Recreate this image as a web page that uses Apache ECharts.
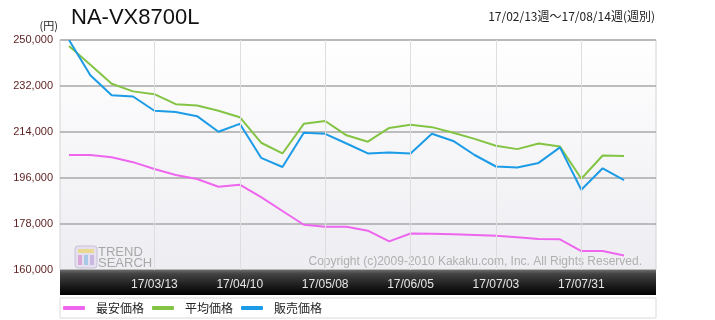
<!DOCTYPE html>
<html>
<head>
<meta charset="utf-8">
<script src="https://cdn.jsdelivr.net/npm/echarts@6/dist/echarts.min.js"></script>
<title>NA-VX8700L</title>
<style>html,body{margin:0;padding:0;background:#fff}#main{width:715px;height:320px}</style>
</head>
<body>
<div id="main"></div>
<script>
// weekly data 17/02/13 - 17/08/14
var weeks = ['17/02/13', '17/02/20', '17/02/27', '17/03/06', '17/03/13', '17/03/20', '17/03/27',
    '17/04/03', '17/04/10', '17/04/17', '17/04/24', '17/05/01', '17/05/08', '17/05/15',
    '17/05/22', '17/05/29', '17/06/05', '17/06/12', '17/06/19', '17/06/26', '17/07/03',
    '17/07/10', '17/07/17', '17/07/24', '17/07/31', '17/08/07', '17/08/14'];
var minPrice = [205000, 205000, 204100, 202200, 199500, 197200, 195600, 192600, 193400, 188500,
    183100, 177700, 176900, 176900, 175400, 171200, 174300, 174200, 174000, 173700, 173400,
    172800, 172100, 172000, 167400, 167400, 165700];
var avgPrice = [247700, 240300, 232900, 229900, 228800, 224900, 224400, 222300, 219800, 209800,
    205600, 217200, 218300, 212700, 210200, 215600, 216800, 215900, 213700, 211300, 208600,
    207300, 209500, 208300, 195700, 204800, 204600];
var salePrice = [250000, 236200, 228400, 227900, 222300, 221800, 220200, 214100, 217200, 203900,
    200300, 213700, 213300, 209500, 205600, 206000, 205600, 213300, 210500, 205000, 200500,
    200100, 201900, 208000, 191400, 199800, 195200];
var seriesNames = ['最安価格', '平均価格', '販売価格'];
var seriesColors = ['#ee66ee', '#84c444', '#1c9be6'];
var yMin = 160000, yMax = 250000, yStep = 18000;

var chart = echarts.init(document.getElementById('main'));

function comma(v) {
    return String(v).replace(/\B(?=(\d{3})+(?!\d))/g, ',');
}
// label / gridline every 4 weeks, first week unlabeled
function every4(i) {
    return i > 0 && i % 4 === 0;
}

var option = {
    animation: false,
    textStyle: { fontFamily: 'Liberation Sans, Noto Sans CJK JP' },
    title: {
        text: 'NA-VX8700L',
        left: 66,
        top: 2,
        textStyle: { fontSize: 22, fontWeight: 'normal', color: '#111' }
    },
    legend: {
        left: 58,
        top: 297,
        icon: 'roundRect',
        itemWidth: 22,
        itemHeight: 4,
        itemGap: 8,
        data: seriesNames,
        textStyle: { fontSize: 12, color: '#222', fontFamily: 'Noto Sans CJK JP', padding: [0, 0, 0, 6] }
    },
    grid: [
        // plot box + price labels
        {
            left: 60, right: 59, top: 40, bottom: 50,
            show: true,
            borderColor: '#d4d4d4',
            borderWidth: 1,
            backgroundColor: new echarts.graphic.LinearGradient(0, 0, 0, 1, [
                { offset: 0, color: '#ffffff' },
                { offset: 1, color: '#ededf2' }
            ])
        },
        // lines
        { left: 69, right: 91, top: 40, bottom: 50 }
    ],
    xAxis: [
        { gridIndex: 0, type: 'value', show: false, min: 0, max: 1 },
        {
            gridIndex: 1,
            type: 'category',
            data: weeks,
            boundaryGap: false,
            z: 4,
            axisLine: { show: false },
            axisTick: { show: false },
            axisLabel: {
                interval: every4,
                color: '#e6e6e6',
                fontSize: 12,
                margin: 9
            },
            splitLine: {
                show: true,
                interval: every4,
                lineStyle: { color: '#dedede', width: 1 }
            }
        }
    ],
    yAxis: [
        {
            gridIndex: 0,
            type: 'value',
            min: 0,
            max: yMax - yMin,
            interval: yStep,
            name: '(円)',
            nameLocation: 'end',
            nameGap: 9,
            nameTextStyle: { fontSize: 11, color: '#222', align: 'right', padding: [0, 2, 0, 0], fontFamily: 'Noto Sans CJK JP' },
            axisLine: { show: false },
            axisTick: { show: false },
            axisLabel: {
                color: '#5a1e1e',
                fontSize: 11,
                margin: 7,
                formatter: function (v) { return comma(v + yMin); }
            },
            splitLine: { lineStyle: { color: '#a8a8a8', width: 1.5 } }
        },
        { gridIndex: 1, type: 'value', min: yMin, max: yMax, show: false }
    ],
    graphic: [
        {
            type: 'text',
            right: 60,
            top: 10,
            style: { text: '17/02/13週～17/08/14週(週別)', fontSize: 12, fill: '#222', fontFamily: 'Noto Sans CJK JP' }
        },
        {
            type: 'rect',
            z: 1,
            shape: { x: 60, y: 270, width: 596, height: 25 },
            style: {
                fill: new echarts.graphic.LinearGradient(0, 0, 0, 1, [
                    { offset: 0, color: '#6a6a6a' },
                    { offset: 0.15, color: '#444' },
                    { offset: 0.6, color: '#1e1e1e' },
                    { offset: 1, color: '#000' }
                ])
            }
        },
        {
            type: 'rect',
            z: 0,
            shape: { x: 60, y: 298, width: 596, height: 20 },
            style: { fill: '#fff', stroke: '#dadada', lineWidth: 1 }
        },
        {
            type: 'text',
            z: 1,
            x: 642,
            y: 262,
            style: {
                text: 'Copyright (c)2009-2010 Kakaku.com, Inc. All Rights Reserved.',
                fontSize: 12,
                fill: '#b0b0b0',
                align: 'right',
                verticalAlign: 'middle',
                fontFamily: 'Liberation Sans'
            }
        },
        {
            type: 'group',
            z: 1,
            x: 75,
            y: 246,
            children: [
                { type: 'rect', shape: { x: 0, y: 0, width: 22, height: 22, r: 3 }, style: { fill: '#e6e0ee', stroke: '#c8c0d8' } },
                { type: 'rect', shape: { x: 3, y: 3, width: 16, height: 4 }, style: { fill: '#e8d890' } },
                { type: 'rect', shape: { x: 3, y: 9, width: 4, height: 10 }, style: { fill: '#d8a8d8' } },
                { type: 'rect', shape: { x: 9, y: 9, width: 4, height: 10 }, style: { fill: '#a8c8e8' } },
                { type: 'rect', shape: { x: 15, y: 9, width: 4, height: 10 }, style: { fill: '#c8b8e0' } },
                { type: 'text', x: 23, y: 0, style: { text: 'TREND', fontSize: 13, fill: '#a8a8a8', fontFamily: 'Liberation Sans' } },
                { type: 'text', x: 23, y: 11, style: { text: 'SEARCH', fontSize: 13, fill: '#a8a8a8', fontFamily: 'Liberation Sans' } }
            ]
        }
    ],
    series: [minPrice, avgPrice, salePrice].map(function (d, k) {
        return {
            name: seriesNames[k],
            type: 'line',
            xAxisIndex: 1,
            yAxisIndex: 1,
            data: d,
            symbol: 'none',
            itemStyle: { color: seriesColors[k] },
            lineStyle: { color: seriesColors[k], width: 2 }
        };
    })
};

chart.setOption(option);
</script>
</body>
</html>
